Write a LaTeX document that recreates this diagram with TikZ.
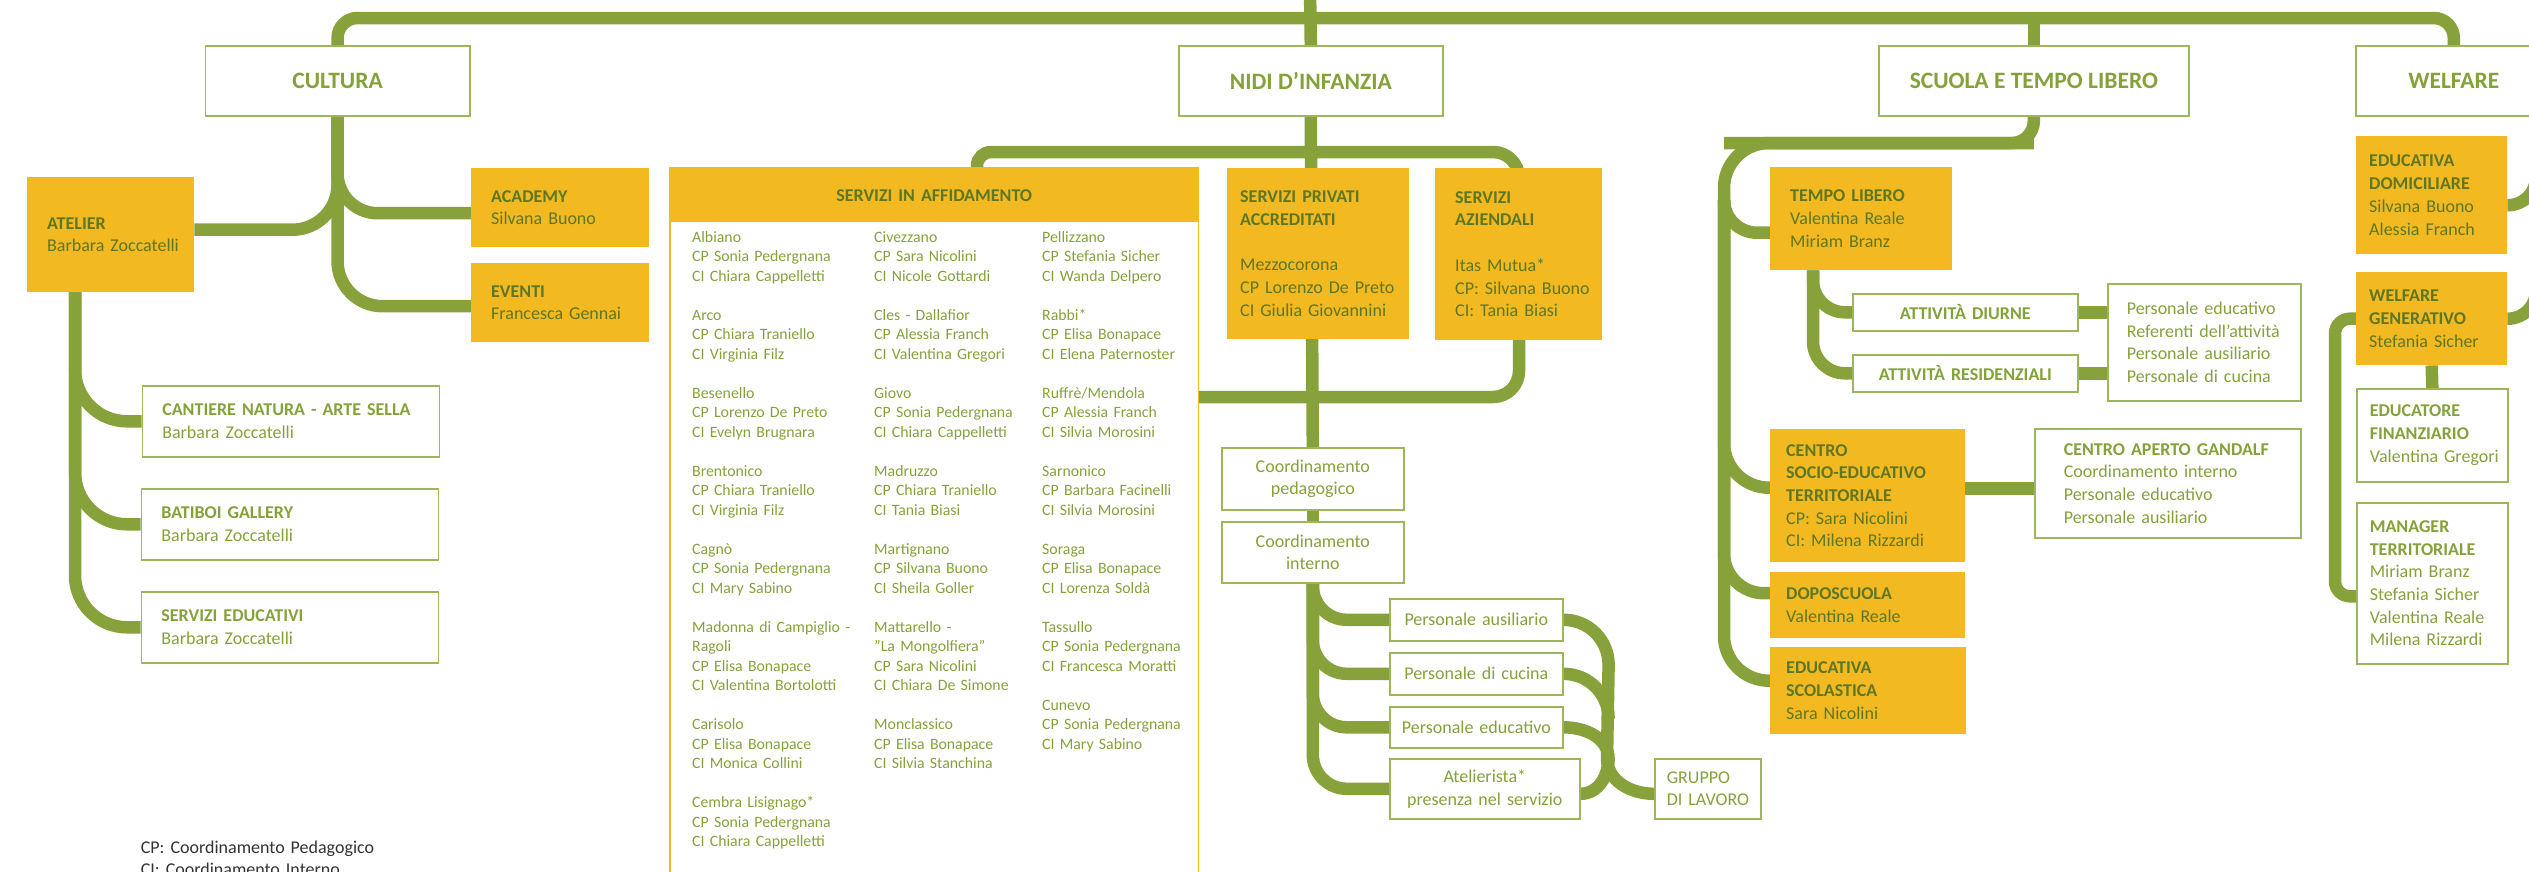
\documentclass[tikz,border=0pt]{standalone}
\usepackage{fontspec}
\setmainfont{Carlito}
\usetikzlibrary{positioning}
\definecolor{stemgreen}{HTML}{87A13B}
\definecolor{boxamber}{HTML}{F3B920}
\definecolor{inkdeep}{HTML}{5E7724}
\definecolor{inkleaf}{HTML}{84A23A}
\definecolor{rimgreen}{HTML}{9CB65C}
\definecolor{inkgray}{HTML}{333333}
\newcommand{\orgbody}{\fontsize{18}{22.7}\selectfont}
\newcommand{\orgtitle}{\fontsize{23.5}{28}\selectfont\bfseries}
\newcommand{\orglist}{\fontsize{15.8}{19.5}\selectfont}
\pgfdeclarelayer{bg}
\pgfsetlayers{bg,main}
\begin{document}
\begin{tikzpicture}[x=1pt,y=-1pt,every node/.style={font=\orgbody},
  head/.style={draw=rimgreen,line width=1.6pt,fill=white,text=inkleaf,font=\orgtitle,anchor=north west,inner sep=0pt,minimum height=70pt,minimum width=#1},
  ybox/.style={fill=boxamber,text=inkdeep,anchor=north west,align=left,inner sep=0pt,execute at begin node={\leftskip=#1\relax}},
  wbox/.style={draw=rimgreen,line width=1.6pt,fill=white,text=inkleaf,anchor=north west,align=left,inner sep=0pt,execute at begin node={\leftskip=#1\relax}},
  cbox/.style={draw=rimgreen,line width=1.6pt,fill=white,text=inkleaf,anchor=north west,align=center,inner sep=0pt},
  col/.style={font=\orglist,text=inkleaf,anchor=base west,align=left,inner sep=0pt,text width=170pt},
  link/.style={draw=stemgreen,line width=12.5pt}]
  \useasboundingbox (0,0) rectangle (2529,871);
  %top
  \node[head=264.5pt] (cultura) at (204.5,45) {CULTURA};
  \node[head=264pt] (nidi) at (1178,45) {NIDI D’INFANZIA};
  \node[head=310pt] (scuola) at (1878,45) {SCUOLA E TEMPO LIBERO};
  \node[head=196pt] (welfare) at (2355,45) {WELFARE};
  \coordinate (root) at (1310,-10);
  \coordinate (topbar) at (1310,18);
  %cultura
  \node[ybox=20pt,text width=167pt,minimum height=115pt] (atelier) at (27,177) {\textbf{ATELIER}\\Barbara Zoccatelli};
  \node[ybox=20pt,text width=178pt,minimum height=79pt] (academy) at (471,168) {\textbf{ACADEMY}\\Silvana Buono};
  \node[ybox=20pt,text width=178pt,minimum height=79pt] (eventi) at (471,263) {\textbf{EVENTI}\\Francesca Gennai};
  \node[wbox=20pt,text width=297pt,minimum height=71pt] (cantiere) at (141.5,385) {\textbf{CANTIERE NATURA - ARTE SELLA}\\Barbara Zoccatelli};
  \node[wbox=20pt,text width=297pt,minimum height=71pt] (batiboi) at (140.6,488) {\textbf{BATIBOI GALLERY}\\Barbara Zoccatelli};
  \node[wbox=20pt,text width=297pt,minimum height=71pt] (seduc) at (140.6,591) {\textbf{SERVIZI EDUCATIVI}\\Barbara Zoccatelli};
  \node[anchor=base west,text=inkgray,align=left,inner sep=0pt,text width=300pt] (legend) at (140.6,853) {CP: Coordinamento Pedagogico\\CI: Coordinamento Interno};
  %nidi
  \node[fill=boxamber,text=inkdeep,anchor=north west,align=center,inner sep=0pt,text width=528pt,minimum height=54pt,font=\orgbody\bfseries] (affid) at (670,168) {SERVIZI IN AFFIDAMENTO};
  \draw[boxamber,line width=1.6pt] (affid.north west) rectangle (affid.east |- 0,900);
  \node[col] (colA) at (692,242) {Albiano\\CP Sonia Pedergnana\\CI Chiara Cappelletti\\[19.5pt]
    Arco\\CP Chiara Traniello\\CI Virginia Filz\\[19.5pt]
    Besenello\\CP Lorenzo De Preto\\CI Evelyn Brugnara\\[19.5pt]
    Brentonico\\CP Chiara Traniello\\CI Virginia Filz\\[19.5pt]
    Cagnò\\CP Sonia Pedergnana\\CI Mary Sabino\\[19.5pt]
    Madonna di Campiglio -\\Ragoli\\CP Elisa Bonapace\\CI Valentina Bortolotti\\[19.5pt]
    Carisolo\\CP Elisa Bonapace\\CI Monica Collini\\[19.5pt]
    Cembra Lisignago*\\CP Sonia Pedergnana\\CI Chiara Cappelletti};
  \node[col,text width=160pt] (colB) at (874,242) {Civezzano\\CP Sara Nicolini\\CI Nicole Gottardi\\[19.5pt]
    Cles - Dallafior\\CP Alessia Franch\\CI Valentina Gregori\\[19.5pt]
    Giovo\\CP Sonia Pedergnana\\CI Chiara Cappelletti\\[19.5pt]
    Madruzzo\\CP Chiara Traniello\\CI Tania Biasi\\[19.5pt]
    Martignano\\CP Silvana Buono\\CI Sheila Goller\\[19.5pt]
    Mattarello -\\"La Mongolfiera"\\CP Sara Nicolini\\CI Chiara De Simone\\[19.5pt]
    Monclassico\\CP Elisa Bonapace\\CI Silvia Stanchina};
  \node[col,text width=150pt] (colC) at (1042,242) {Pellizzano\\CP Stefania Sicher\\CI Wanda Delpero\\[19.5pt]
    Rabbi*\\CP Elisa Bonapace\\CI Elena Paternoster\\[19.5pt]
    Ruffrè/Mendola\\CP Alessia Franch\\CI Silvia Morosini\\[19.5pt]
    Sarnonico\\CP Barbara Facinelli\\CI Silvia Morosini\\[19.5pt]
    Soraga\\CP Elisa Bonapace\\CI Lorenza Soldà\\[19.5pt]
    Tassullo\\CP Sonia Pedergnana\\CI Francesca Moratti\\[19.5pt]
    Cunevo\\CP Sonia Pedergnana\\CI Mary Sabino};
  \node[ybox=13pt,text width=182pt,minimum height=171pt] (privati) at (1227,168) {\textbf{SERVIZI PRIVATI}\\\textbf{ACCREDITATI}\\[22.7pt]Mezzocorona\\CP Lorenzo De Preto\\CI Giulia Giovannini};
  \node[ybox=20pt,text width=167pt,minimum height=172pt] (aziend) at (1435,168) {\textbf{SERVIZI}\\\textbf{AZIENDALI}\\[22.7pt]Itas Mutua*\\CP: Silvana Buono\\CI: Tania Biasi};
  \node[cbox,text width=182pt,minimum height=62pt] (coordped) at (1221,447) {Coordinamento\\pedagogico};
  \node[cbox,text width=182pt,minimum height=61pt] (coordint) at (1221,521) {Coordinamento\\interno};
  \node[cbox,text width=173pt,minimum height=42pt] (ausil) at (1389,598) {Personale ausiliario};
  \node[cbox,text width=173pt,minimum height=42pt] (cucina) at (1389,652) {Personale di cucina};
  \node[cbox,text width=173pt,minimum height=41pt] (educa) at (1389,706) {Personale educativo};
  \node[cbox,text width=190pt,minimum height=60pt] (atelst) at (1389,758) {Atelierista*\\*presenza nel servizio};
  \node[wbox=12pt,text width=106pt,minimum height=60pt] (gruppo) at (1654,758) {GRUPPO\\DI LAVORO};
  \coordinate (nbar) at (977,152);
  \coordinate (nbarR) at (1519,152);
  \coordinate (nlow) at (1519,397);
  \coordinate (gjoin) at (1607,758);
  %scuola
  \node[ybox=20pt,text width=182pt,minimum height=103pt] (tempo) at (1770,167) {\textbf{TEMPO LIBERO}\\Valentina Reale\\Miriam Branz};
  \node[cbox,text width=225pt,minimum height=37pt,font=\orgbody\bfseries] (diurne) at (1852,293) {ATTIVITÀ DIURNE};
  \node[cbox,text width=225pt,minimum height=37pt,font=\orgbody\bfseries] (resid) at (1852,354) {ATTIVITÀ RESIDENZIALI};
  \node[wbox=19pt,text width=193pt,minimum height=117pt] (pers) at (2107,283) {Personale educativo\\Referenti dell’attività\\Personale ausiliario\\Personale di cucina};
  \node[ybox=16pt,text width=195pt,minimum height=133pt] (centro) at (1770,429) {\textbf{CENTRO}\\\textbf{SOCIO-EDUCATIVO}\\\textbf{TERRITORIALE}\\CP: Sara Nicolini\\CI: Milena Rizzardi};
  \node[wbox=29pt,text width=266pt,minimum height=109pt] (gandalf) at (2034,428) {\textbf{CENTRO APERTO GANDALF}\\Coordinamento interno\\Personale educativo\\Personale ausiliario};
  \node[ybox=16pt,text width=195pt,minimum height=66pt] (dopo) at (1770,572) {\textbf{DOPOSCUOLA}\\Valentina Reale};
  \node[ybox=16pt,text width=196pt,minimum height=87pt] (edscol) at (1770,647) {\textbf{EDUCATIVA}\\\textbf{SCOLASTICA}\\Sara Nicolini};
  \coordinate (strunk) at (1724,143);
  \coordinate (sstem) at (1724,200);
  \coordinate (cgl) at ([yshift=7pt]centro.east);
  %welfare
  \node[ybox=13pt,text width=151pt,minimum height=118pt] (domic) at (2356,136) {\textbf{EDUCATIVA}\\\textbf{DOMICILIARE}\\Silvana Buono\\Alessia Franch};
  \node[ybox=13pt,text width=151pt,minimum height=93pt] (genera) at (2356,272) {\textbf{WELFARE}\\\textbf{GENERATIVO}\\Stefania Sicher};
  \node[wbox=13pt,text width=151pt,minimum height=93pt] (finanz) at (2356,388) {\textbf{EDUCATORE}\\\textbf{FINANZIARIO}\\Valentina Gregori};
  \node[wbox=13pt,text width=151pt,minimum height=161pt] (manager) at (2356,502) {\textbf{MANAGER}\\\textbf{TERRITORIALE}\\Miriam Branz\\Stefania Sicher\\Valentina Reale\\Milena Rizzardi};
  \coordinate (wtrunk) at (2536,115);
  \coordinate (wleft) at (2335,319);
  %links
  \begin{pgfonlayer}{bg}
    \draw[link,rounded corners=20pt] (cultura.north) -- (cultura.north |- topbar) -- (welfare.north |- topbar) -- (welfare.north);
    \draw[link] (root) -- (nidi.north);
    \draw[link] (scuola.north |- topbar) -- (scuola.north);
    %cultura
    \draw[link,rounded corners=45pt] (cultura.south) |- ([yshift=5pt]atelier.east);
    \draw[link,rounded corners=40pt] (cultura.south) |- ([yshift=-5.5pt]academy.west);
    \draw[link,rounded corners=45pt] (cultura.south) |- ([yshift=-3.5pt]eventi.west);
    \foreach \n in {cantiere,batiboi,seduc}
      \draw[link,rounded corners=52pt] ([xshift=48pt]atelier.south west) |- (\n.west);
    %nidi
    \draw[link] (nidi.south) -- (coordped.north);
    \draw[link,rounded corners=14pt] (affid.north -| nbar) -- (nbar) -- (nidi.south |- nbar);
    \draw[link,rounded corners=26pt] (nidi.south |- nbar) -- (nbarR) -- (nlow) -- (nlow -| affid.east);
    \draw[link] (coordped.south) -- (coordint.north);
    \foreach \n in {ausil,cucina,educa,atelst}
      \draw[link,rounded corners=34pt] (coordint.south) |- (\n.west);
    \draw[link] (ausil.east) to[out=0,in=90] ++(45,45) -- (gjoin) to[out=-90,in=180] ([yshift=-5pt]gruppo.west);
    \draw[link] (cucina.east) to[out=0,in=90] ++(45,45);
    \draw[link] (educa.east) to[out=0,in=90] ++(45,32);
    \draw[link] ([yshift=-5pt]atelst.east) to[out=0,in=-90] ++(28,-36);
    %scuola
    \draw[link,rounded corners=22pt] (scuola.south) -- (scuola.south |- strunk) -- (strunk);
    \draw[link,rounded corners=45pt] (scuola.south |- strunk) -- (strunk) |- ([yshift=10pt]edscol.west);
    \draw[link,rounded corners=33pt] (sstem) |- ([yshift=-14pt]tempo.west);
    \draw[link,rounded corners=45pt] (sstem) |- ([yshift=8pt]centro.west);
    \draw[link,rounded corners=40pt] (sstem) |- ([yshift=12pt]dopo.west);
    \foreach \n in {diurne,resid}
      \draw[link,rounded corners=32pt] ([xshift=43pt]tempo.south west) |- (\n.west);
    \draw[link] (diurne.east) -- (diurne.east -| pers.west);
    \draw[link] (resid.east) -- (resid.east -| pers.west);
    \draw[link] (cgl) -- (cgl -| gandalf.west);
    %welfare
    \draw[link,rounded corners=28pt] (wtrunk) |- ([yshift=-10pt]domic.east);
    \draw[link,rounded corners=28pt] (wtrunk) |- (genera.east);
    \draw[link,rounded corners=15pt] (genera.west) -- (genera.west -| wleft) |- ([yshift=-13pt]manager.west);
    \draw[link] (genera.south) -- (finanz.north);
  \end{pgfonlayer}
\end{tikzpicture}
\end{document}
